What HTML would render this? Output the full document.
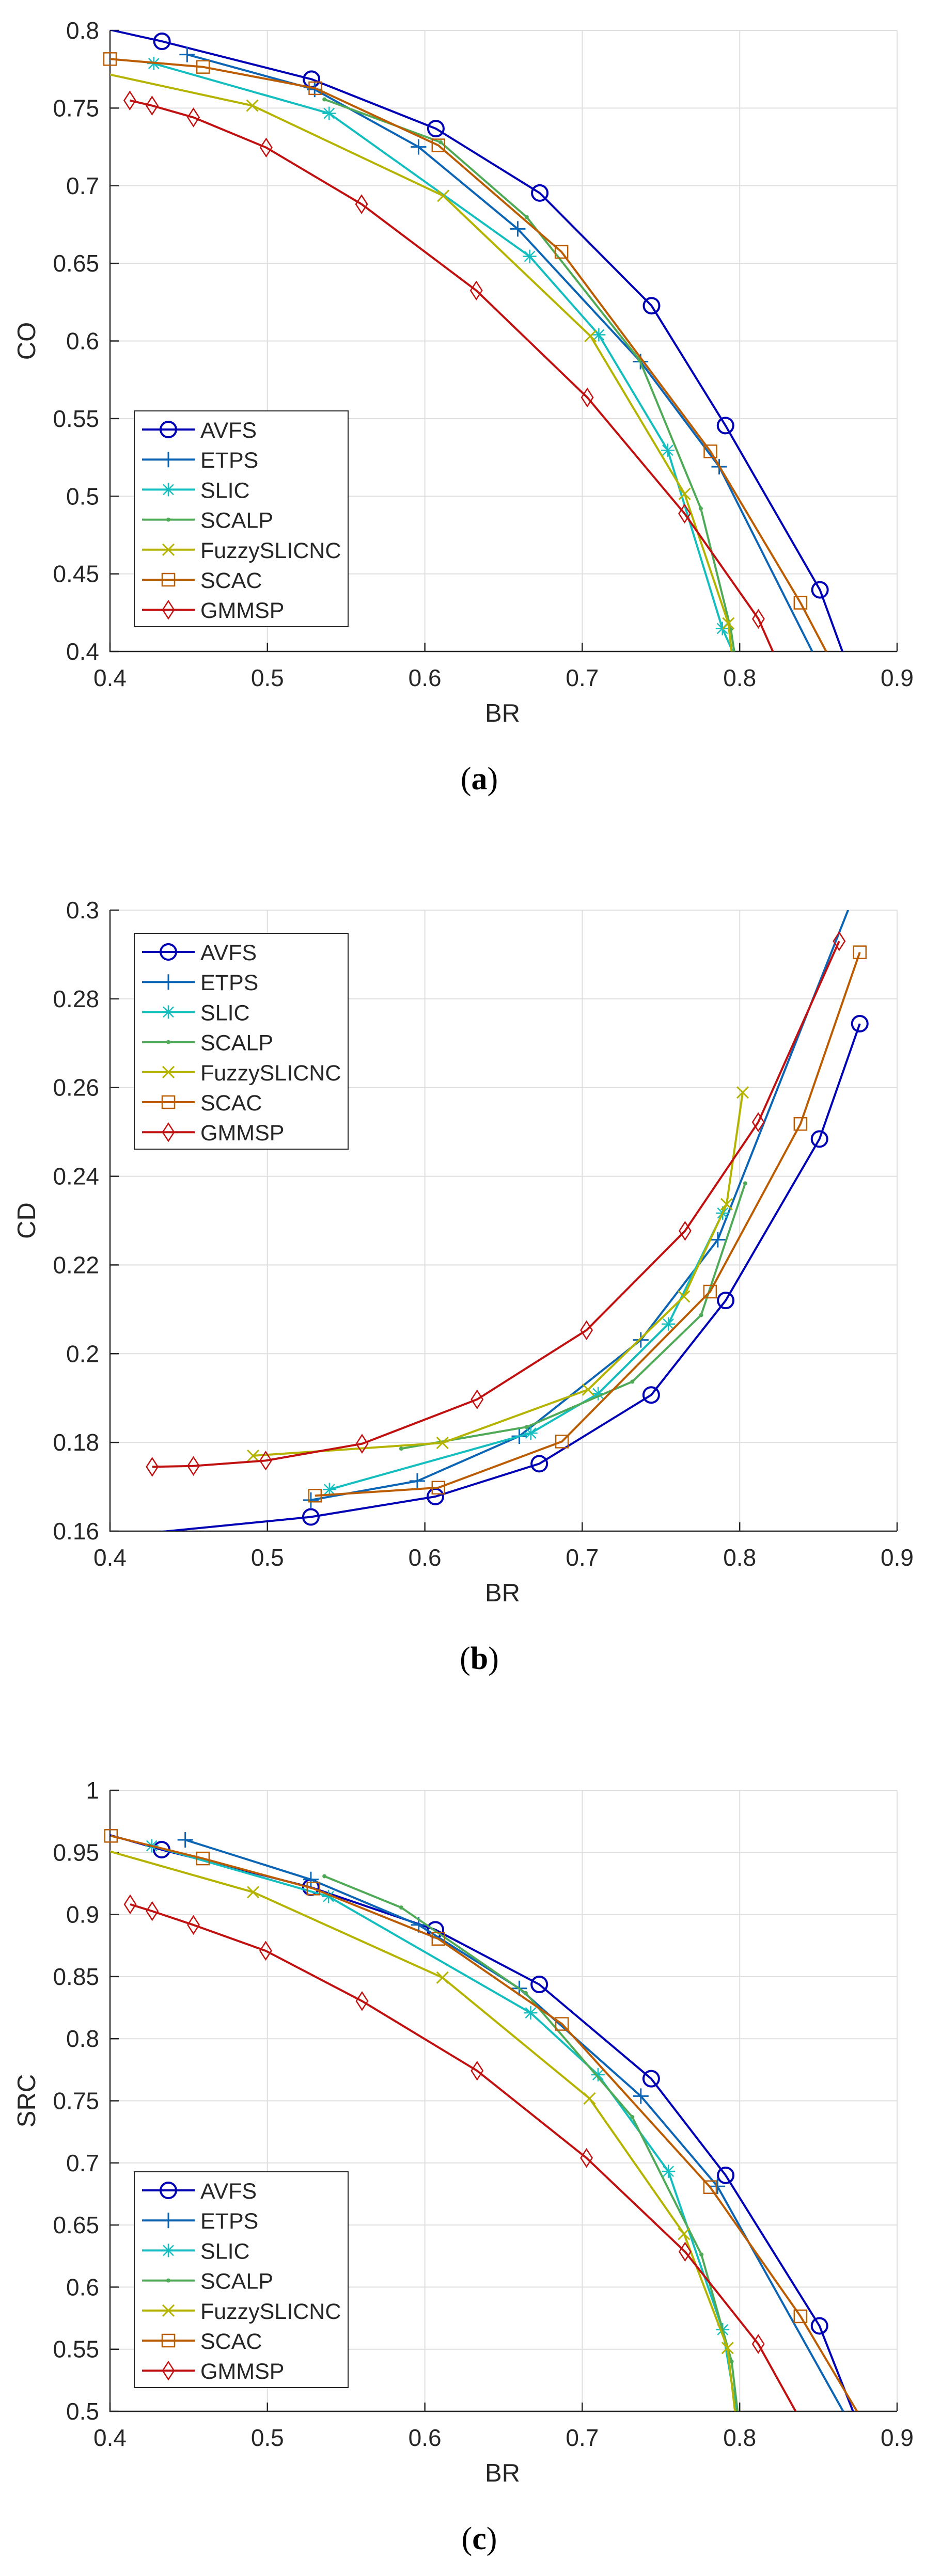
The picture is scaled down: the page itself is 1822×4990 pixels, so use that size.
<!DOCTYPE html>
<html><head><meta charset="utf-8"><title>BR curves</title>
<style>
html,body{margin:0;padding:0;background:#fff;}
svg{display:block;}
text{font-family:"Liberation Sans",sans-serif;fill:#262626;}
.cap{font-family:"Liberation Serif",serif;fill:#000;}
</style></head>
<body>
<svg id="fig" xmlns="http://www.w3.org/2000/svg" width="1822" height="4990" viewBox="0 0 1822 4990">
<rect width="1822" height="4990" fill="#fff"/>
</svg>
<script>
// ---- chart (a): CO vs BR ----
const aTicksX = [0.4,0.5,0.6,0.7,0.8,0.9];
const aTicksY = [0.4,0.45,0.5,0.55,0.6,0.65,0.7,0.75,0.8];
const aTickLabelsY = ["0.4","0.45","0.5","0.55","0.6","0.65","0.7","0.75","0.8"];
const aAVFSx = [0.38,0.433,0.528,0.607,0.673,0.744,0.791,0.851,0.88];
const aAVFSy = [0.805,0.793,0.7686,0.7368,0.6953,0.6227,0.5455,0.4397,0.359];
const aETPSx = [0.449,0.53,0.596,0.659,0.737,0.787,0.86];
const aETPSy = [0.7845,0.762,0.725,0.6722,0.5867,0.519,0.372];
const aSLICx = [0.4278,0.5392,0.6666,0.7105,0.7543,0.789,0.80];
const aSLICy = [0.7787,0.7466,0.6545,0.604,0.5296,0.4148,0.39];
const aSCALPx = [0.5362,0.61,0.6647,0.7364,0.7753,0.7944,0.798];
const aSCALPy = [0.7556,0.728,0.6798,0.5878,0.4921,0.4144,0.39];
const aFUZZx = [0.38,0.4904,0.6117,0.7052,0.765,0.7928,0.796];
const aFUZZy = [0.776,0.7516,0.6935,0.6032,0.5015,0.4181,0.39];
const aSCACx = [0.4,0.4591,0.5304,0.6086,0.6868,0.7814,0.8386,0.87];
const aSCACy = [0.7816,0.7765,0.7628,0.726,0.6574,0.5289,0.4314,0.371];
const aGMMx = [0.4126,0.4267,0.453,0.4992,0.5598,0.6327,0.7032,0.765,0.8119,0.835];
const aGMMy = [0.7549,0.7516,0.744,0.7246,0.6881,0.6325,0.5636,0.4888,0.421,0.368];

// ---- chart (b): CD vs BR ----
const bTicksX = [0.4,0.5,0.6,0.7,0.8,0.9];
const bTicksY = [0.16,0.18,0.2,0.22,0.24,0.26,0.28,0.3];
const bTickLabelsY = ["0.16","0.18","0.2","0.22","0.24","0.26","0.28","0.3"];
const bAVFSx = [0.38,0.5276,0.6067,0.6727,0.7438,0.7911,0.8507,0.8763];
const bAVFSy = [0.158,0.1632,0.1678,0.1752,0.1907,0.212,0.2484,0.2744];
const bETPSx = [0.5276,0.5952,0.66,0.7372,0.7861,0.88];
const bETPSy = [0.167,0.1713,0.1814,0.2031,0.2257,0.31];
const bSLICx = [0.5394,0.6673,0.7101,0.7547,0.7892];
const bSLICy = [0.1694,0.1821,0.191,0.2067,0.2317];
const bSCALPx = [0.585,0.6648,0.7318,0.7755,0.8035];
const bSCALPy = [0.1786,0.1835,0.1937,0.2087,0.2384];
const bFUZZx = [0.4909,0.6112,0.7037,0.7646,0.7917,0.8019];
const bFUZZy = [0.177,0.1799,0.1919,0.2129,0.2337,0.2589];
const bSCACx = [0.5302,0.6086,0.6871,0.7812,0.8386,0.8763];
const bSCACy = [0.168,0.1698,0.1802,0.214,0.2518,0.2905];
const bGMMx = [0.4268,0.453,0.4989,0.5601,0.6332,0.7027,0.7653,0.8118,0.8632];
const bGMMy = [0.1745,0.1747,0.1759,0.1797,0.1897,0.2053,0.2277,0.2522,0.293];

// ---- chart (c): SRC vs BR ----
const cTicksX = [0.4,0.5,0.6,0.7,0.8,0.9];
const cTicksY = [0.5,0.55,0.6,0.65,0.7,0.75,0.8,0.85,0.9,0.95,1];
const cTickLabelsY = ["0.5","0.55","0.6","0.65","0.7","0.75","0.8","0.85","0.9","0.95","1"];
const cAVFSx = [0.38,0.4328,0.5276,0.6067,0.6727,0.7438,0.7911,0.8507,0.89];
const cAVFSy = [0.971,0.9522,0.9219,0.8877,0.8437,0.7678,0.69,0.5688,0.442];
const cETPSx = [0.4478,0.5276,0.5961,0.66,0.7372,0.7859,0.89];
const cETPSy = [0.9601,0.9282,0.8916,0.8405,0.7538,0.6811,0.445];
const cSLICx = [0.4265,0.5388,0.6672,0.71,0.7547,0.7892,0.802];
const cSLICy = [0.9553,0.9145,0.8208,0.771,0.6932,0.5657,0.47];
const cSCALPx = [0.5362,0.585,0.6641,0.7318,0.7757,0.7949,0.801];
const cSCALPy = [0.9308,0.9056,0.8367,0.7369,0.6262,0.5401,0.475];
const cFUZZx = [0.38,0.4909,0.6112,0.7046,0.7646,0.7923,0.80];
const cFUZZy = [0.958,0.918,0.8492,0.7519,0.6428,0.551,0.468];
const cSCACx = [0.4006,0.459,0.5292,0.6086,0.6871,0.7812,0.8386,0.89];
const cSCACy = [0.9633,0.9451,0.9209,0.8804,0.8119,0.6805,0.5765,0.467];
const cGMMx = [0.4128,0.4268,0.453,0.4989,0.5601,0.6332,0.7027,0.7653,0.8118,0.85];
const cGMMy = [0.9082,0.9027,0.8916,0.8708,0.8303,0.7742,0.704,0.6285,0.5542,0.467];

const seriesNames = ["AVFS","ETPS","SLIC","SCALP","FuzzySLICNC","SCAC","GMMSP"];
const seriesColors = ["#0000B4","#0B64B4","#14BEBE","#4EAA56","#B4B400","#BC5C00","#C01010"];
const seriesMarkers = ["circle","plus","star","dot","x","square","diamond"];

const NS = "http://www.w3.org/2000/svg";
const svg = document.getElementById('fig');
function mk(tag, attrs, parent){
  const e = document.createElementNS(NS, tag);
  for (const k in attrs) e.setAttribute(k, attrs[k]);
  (parent||svg).appendChild(e);
  return e;
}

function marker(g, type, cx, cy, color){
  let m;
  if (type==="circle") m = mk('circle',{cx:cx,cy:cy,r:15,fill:'none',stroke:color,'stroke-width':4},g);
  else if (type==="square") m = mk('rect',{x:cx-12,y:cy-12,width:24,height:24,fill:'none',stroke:color,'stroke-width':2.5},g);
  else if (type==="diamond") m = mk('path',{d:`M${cx} ${cy-17}L${cx+11} ${cy}L${cx} ${cy+17}L${cx-11} ${cy}Z`,fill:'none',stroke:color,'stroke-width':2.5},g);
  else if (type==="plus") m = mk('path',{d:`M${cx-15} ${cy}H${cx+15}M${cx} ${cy-15}V${cy+15}`,stroke:color,'stroke-width':3},g);
  else if (type==="x") m = mk('path',{d:`M${cx-11} ${cy-11}L${cx+11} ${cy+11}M${cx-11} ${cy+11}L${cx+11} ${cy-11}`,stroke:color,'stroke-width':3},g);
  else if (type==="star") m = mk('path',{d:`M${cx-13} ${cy}H${cx+13}M${cx} ${cy-13}V${cy+13}M${cx-10} ${cy-10}L${cx+10} ${cy+10}M${cx-10} ${cy+10}L${cx+10} ${cy-10}`,stroke:color,'stroke-width':2.5},g);
  else m = mk('circle',{cx:cx,cy:cy,r:4,fill:color},g);
  
  
  return m;
}

function drawChart(id, top, yMin, yMax, ticksX, ticksY, tickLabelsY, yLabel, caption, series, legendTop){
  const L=213, R=1737, T=top, B=top+1203;
  const xMin=0.4, xMax=0.9;
  const sx = v => L + (v-xMin)/(xMax-xMin)*(R-L);
  const sy = v => B - (v-yMin)/(yMax-yMin)*(B-T);
  const g = mk('g',{});
  
  
  const clip = mk('clipPath',{id:'clip-'+id},g);
  mk('rect',{x:L,y:T,width:R-L,height:B-T},clip);
  // grid
  const grid = mk('g',{},g);
  
  
  ticksX.forEach(v=>{ if(v>xMin) mk('line',{x1:sx(v),x2:sx(v),y1:T,y2:B,stroke:'#dfdfdf','stroke-width':2},grid); });
  ticksY.forEach(v=>{ if(v>yMin) mk('line',{x1:L,x2:R,y1:sy(v),y2:sy(v),stroke:'#dfdfdf','stroke-width':2},grid); });
  // axes
  const ax = mk('g',{stroke:'#262626','stroke-width':2.5,fill:'none'},g);
  
  
  mk('path',{d:`M${L} ${T}V${B}H${R}`},ax);
  ticksX.forEach(v=>mk('line',{x1:sx(v),x2:sx(v),y1:B,y2:B-17},ax));
  ticksY.forEach(v=>mk('line',{x1:L,x2:L+17,y1:sy(v),y2:sy(v)},ax));
  // tick labels
  ticksX.forEach(v=>{
    const t = mk('text',{x:sx(v),y:B+67,'font-size':46,'text-anchor':'middle'},g);
    t.textContent = String(v);
    
    
  });
  ticksY.forEach((v,i)=>{
    const t = mk('text',{x:192,y:sy(v)+16,'font-size':46,'text-anchor':'end'},g);
    t.textContent = tickLabelsY[i];
    
    
  });
  const xl = mk('text',{x:973,y:B+136,'font-size':49,'text-anchor':'middle'},g);
  xl.textContent='BR';
  
  
  const yl = mk('text',{x:0,y:0,'font-size':49,'text-anchor':'middle',transform:`translate(68 ${(T+B)/2}) rotate(-90)`},g);
  yl.textContent=yLabel;
  
  
  const cap = mk('text',{x:928,y:B+267,'font-size':62,'text-anchor':'middle',class:'cap'},g);
  cap.innerHTML = '(<tspan font-weight="bold">'+caption+'</tspan>)';
  
  
  // series
  series.forEach((s,i)=>{
    const sg = mk('g',{},g);
    
    
    const d = s[0].map((x,k)=>(k?'L':'M')+sx(x).toFixed(1)+' '+sy(s[1][k]).toFixed(1)).join('');
    const p = mk('path',{d:d,fill:'none',stroke:seriesColors[i],'stroke-width':4,'stroke-linejoin':'round','clip-path':`url(#clip-${id})`},sg);
    
    
    s[0].forEach((x,k)=>{
      const y=s[1][k];
      if (x>=xMin-1e-9 && x<=xMax && y>=yMin && y<=yMax) marker(sg, seriesMarkers[i], sx(x), sy(y), seriesColors[i]);
    });
  });
  // legend
  const lg = mk('g',{},g);
  
  
  mk('rect',{x:260,y:legendTop,width:414,height:418,fill:'#fff',stroke:'#262626','stroke-width':2},lg);
  seriesNames.forEach((n,i)=>{
    const ey = legendTop+36+i*58.2;
    const eg = mk('g',{},lg);
    
    
    mk('line',{x1:275,x2:377,y1:ey,y2:ey,stroke:seriesColors[i],'stroke-width':4},eg);
    marker(eg, seriesMarkers[i], 326, ey, seriesColors[i]);
    const t = mk('text',{x:388,y:ey+16,'font-size':43},eg);
    t.textContent = n;
  });
}

drawChart('a', 59, 0.4, 0.8, aTicksX, aTicksY, aTickLabelsY, 'CO', 'a',
  [[aAVFSx,aAVFSy],[aETPSx,aETPSy],[aSLICx,aSLICy],[aSCALPx,aSCALPy],[aFUZZx,aFUZZy],[aSCACx,aSCACy],[aGMMx,aGMMy]], 796);
drawChart('b', 1763, 0.16, 0.3, bTicksX, bTicksY, bTickLabelsY, 'CD', 'b',
  [[bAVFSx,bAVFSy],[bETPSx,bETPSy],[bSLICx,bSLICy],[bSCALPx,bSCALPy],[bFUZZx,bFUZZy],[bSCACx,bSCACy],[bGMMx,bGMMy]], 1808);
drawChart('c', 3468, 0.5, 1, cTicksX, cTicksY, cTickLabelsY, 'SRC', 'c',
  [[cAVFSx,cAVFSy],[cETPSx,cETPSy],[cSLICx,cSLICy],[cSCALPx,cSCALPy],[cFUZZx,cFUZZy],[cSCACx,cSCACy],[cGMMx,cGMMy]], 4207);
</script>
</body></html>
